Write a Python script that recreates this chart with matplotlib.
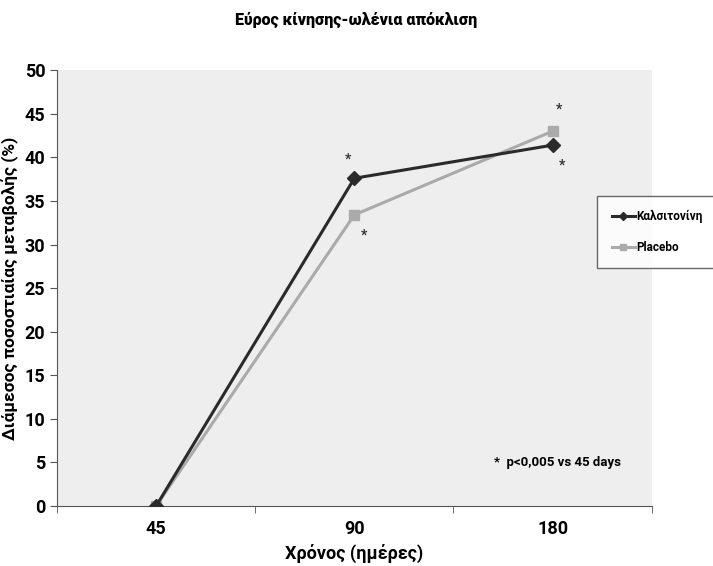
import numpy as np
import matplotlib.pyplot as plt

days = ['45', '90', '180']
kalsitonini = [0, 37.6, 41.4]
placebo = [0, 33.4, 43.0]
# asterisk marks (category index, value)
stars = [(1, 39.8), (1, 31.0), (2, 45.5), (2, 39.0)]
star_dx = [-0.03, 0.05, 0.03, 0.05]

plt.rcParams['font.family'] = ['Roboto', 'DejaVu Sans']
plt.rcParams['font.weight'] = 'bold'
plt.rcParams['axes.labelweight'] = 'bold'

fig = plt.figure(figsize=(7.13, 5.66), dpi=100)
ax = fig.add_axes([0.080, 0.106, 0.834, 0.770])
ax.set_facecolor('#eeeeee')

x = np.arange(len(days))
ax.plot(x, kalsitonini, color='#2a2a2a', lw=2.2, marker='D', ms=7, label='Καλσιτονίνη', zorder=3)
ax.plot(x, placebo, color='#aaaaaa', lw=2.2, marker='s', ms=7, label='Placebo', zorder=2)

for (i, v), dx in zip(stars, star_dx):
    ax.text(i + dx, v, '*', ha='center', va='center', fontsize=10, color='#333333')

ax.set_xlim(-0.5, 2.5)
ax.set_ylim(0, 50)
ax.set_yticks(range(0, 51, 5))
ax.set_xticks(x)
ax.set_xticklabels(days)
ax.set_xticks([-0.5, 0.5, 1.5, 2.5], minor=True)
ax.tick_params(axis='x', which='major', length=0, pad=10, labelsize=13)
ax.tick_params(axis='x', which='minor', length=5, color='#555555')
ax.tick_params(axis='y', labelsize=13, length=5, color='#555555')
for s in ['top', 'right']:
    ax.spines[s].set_visible(False)
for s in ['left', 'bottom']:
    ax.spines[s].set_color('#555555')

ax.set_xlabel('Χρόνος (ημέρες)', fontsize=13, labelpad=4)
ax.set_ylabel('Διάμεσος ποσοστιαίας μεταβολής (%)', fontsize=12.5, labelpad=4)
fig.text(0.5, 0.965, 'Εύρος κίνησης-ωλένια απόκλιση', ha='center', va='center',
         fontsize=11.5, fontweight='heavy')

ax.text(0.735, 0.10, '*  p<0,005 vs 45 days', transform=ax.transAxes, fontsize=9.5, va='center')

leg = fig.legend(loc='upper left', bbox_to_anchor=(0.838, 0.654), borderaxespad=0, fontsize=8.5,
                 frameon=True, fancybox=False, edgecolor='#444444', borderpad=1.2, labelspacing=1.5,
                 handlelength=2.0, handletextpad=0.1, markerscale=0.6)
leg.get_frame().set_linewidth(1.0)

fig.savefig('out.png', dpi=100)
